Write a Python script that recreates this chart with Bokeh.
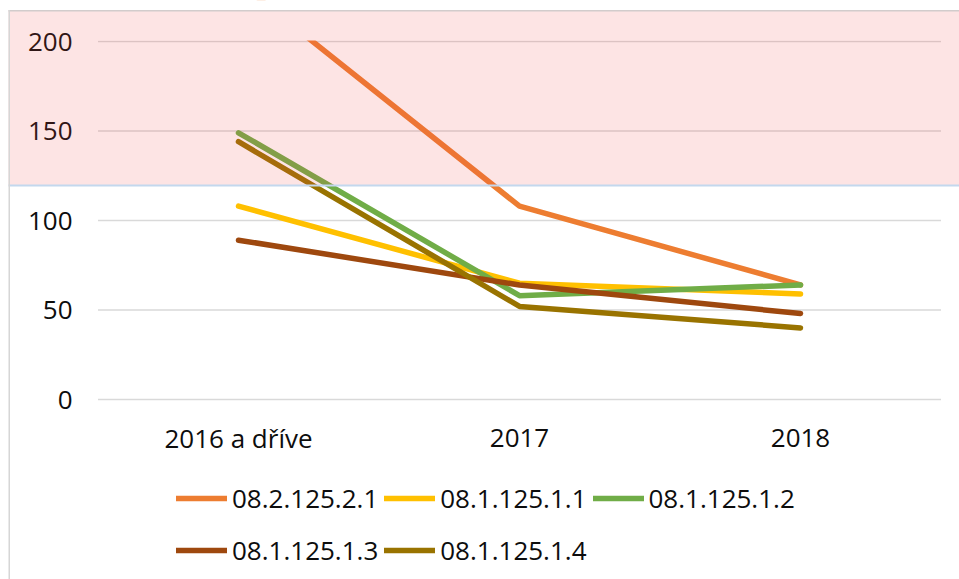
from bokeh.plotting import figure
from bokeh.models import Range1d, BoxAnnotation, Legend, LegendItem
from bokeh.core.properties import value
from bokeh.embed import file_html
from bokeh.resources import INLINE

categories = ["2016 a dříve", "2017", "2018"]
series_names = ["08.2.125.2.1", "08.1.125.1.1", "08.1.125.1.2", "08.1.125.1.3", "08.1.125.1.4"]
s_0821 = [233, 108, 64]
s_0811 = [108, 65, 59]
s_0812 = [149, 58, 64]
s_0813 = [89, 64, 48]
s_0814 = [144, 52, 40]
series_values = [s_0821, s_0811, s_0812, s_0813, s_0814]
colors = ["#ED7D31", "#FFC000", "#70AD47", "#9E480E", "#997300"]
y_ticks = [0, 50, 100, 150, 200]
y_max = 200  # top of the value axis

FONT = "Open Sans"
FONT_SIZE = "26px"
TEXT_COLOR = "#0D0D0D"
W, H = 959, 579

# ---- pixel layout of the chart (canvas coordinates) ----
X_FIRST = 238.0     # centre of first category
X_STEP = 281.0      # distance between categories
Y_ZERO = 399.0      # pixel row of value 0
PX_PER_UNIT = 1.79  # vertical scale


def xd(px):
    return (px - X_FIRST) / X_STEP


def yd(py):
    return (Y_ZERO - py) / PX_PER_UNIT


xs = list(range(len(categories)))

p = figure(width=W, height=H,
           x_range=Range1d(xd(0), xd(W)), y_range=Range1d(yd(H), yd(0)),
           x_axis_location=None, y_axis_location=None,
           output_backend="svg", toolbar_location=None,
           min_border=0, min_border_left=0, min_border_right=0,
           min_border_top=0, min_border_bottom=0)
p.outline_line_color = None
p.grid.visible = False
p.background_fill_color = "white"
p.border_fill_color = "white"

# gridlines across the plot area (half a category band beyond the outer centres)
n = len(categories)
p.segment(x0=[-0.5] * len(y_ticks), x1=[n - 0.5] * len(y_ticks),
          y0=y_ticks, y1=y_ticks, line_color="#D9D9D9", line_width=1.5)

items = []
for name, vals, col in zip(series_names, series_values, colors):
    r = p.line(x=xs, y=vals, line_color=col, line_width=5.5,
               line_cap="round", line_join="round")
    items.append(LegendItem(label=name, renderers=[r]))

# clip everything above the top of the value axis
p.add_layout(BoxAnnotation(bottom=y_max + 1.0 / PX_PER_UNIT,
                           top=-5, top_units="canvas",
                           left=-5, left_units="canvas",
                           right=W + 5, right_units="canvas",
                           fill_color="white", fill_alpha=1,
                           line_color=None, level="annotation"))
# white strip above the highlight box
p.add_layout(BoxAnnotation(left=-5, right=W + 5, top=-5, bottom=10,
                           left_units="canvas", right_units="canvas",
                           top_units="canvas", bottom_units="canvas",
                           fill_color="white", fill_alpha=1,
                           line_color=None, level="overlay"))

# translucent pink highlight box
p.add_layout(BoxAnnotation(left=8, right=W, top=10, bottom=185,
                           left_units="canvas", right_units="canvas",
                           top_units="canvas", bottom_units="canvas",
                           fill_color=(242, 75, 75), fill_alpha=0.15,
                           line_color=None, level="overlay"))
# its edges and the chart-area left border
for (l, r_, t, b, c) in [(8, W, 9.5, 11, "#D2CCCC"),
                         (8, W, 184, 186, "#C3D8EE"),
                         (8, 9.5, 9.5, H, "#D6D6D6")]:
    p.add_layout(BoxAnnotation(left=l, right=r_, top=t, bottom=b,
                               left_units="canvas", right_units="canvas",
                               top_units="canvas", bottom_units="canvas",
                               fill_color=c, fill_alpha=1,
                               line_color=None, level="overlay"))

# value-axis labels
ty = p.text(x=[xd(72)] * len(y_ticks), y=y_ticks, text=[str(t) for t in y_ticks],
            text_align="right", text_baseline="middle",
            text_font=value(FONT), text_font_size=FONT_SIZE, text_color=TEXT_COLOR)
ty.level = "overlay"
# category-axis labels
tx = p.text(x=xs, y=[yd(437)] * n, text=categories,
            text_align="center", text_baseline="middle",
            text_font=value(FONT), text_font_size=FONT_SIZE, text_color=TEXT_COLOR)
tx.level = "overlay"

legend = Legend(items=items, orientation="horizontal", ncols=3,
                location=(176, H - 572.5), padding=0, margin=0, spacing=6,
                glyph_width=51, glyph_height=46, label_height=46,
                label_standoff=5, label_text_font=FONT,
                label_text_font_size=FONT_SIZE, label_text_color=TEXT_COLOR,
                border_line_color=None, background_fill_alpha=0)
p.add_layout(legend, "center")

open("out.html", "w").write(file_html(p, INLINE))
